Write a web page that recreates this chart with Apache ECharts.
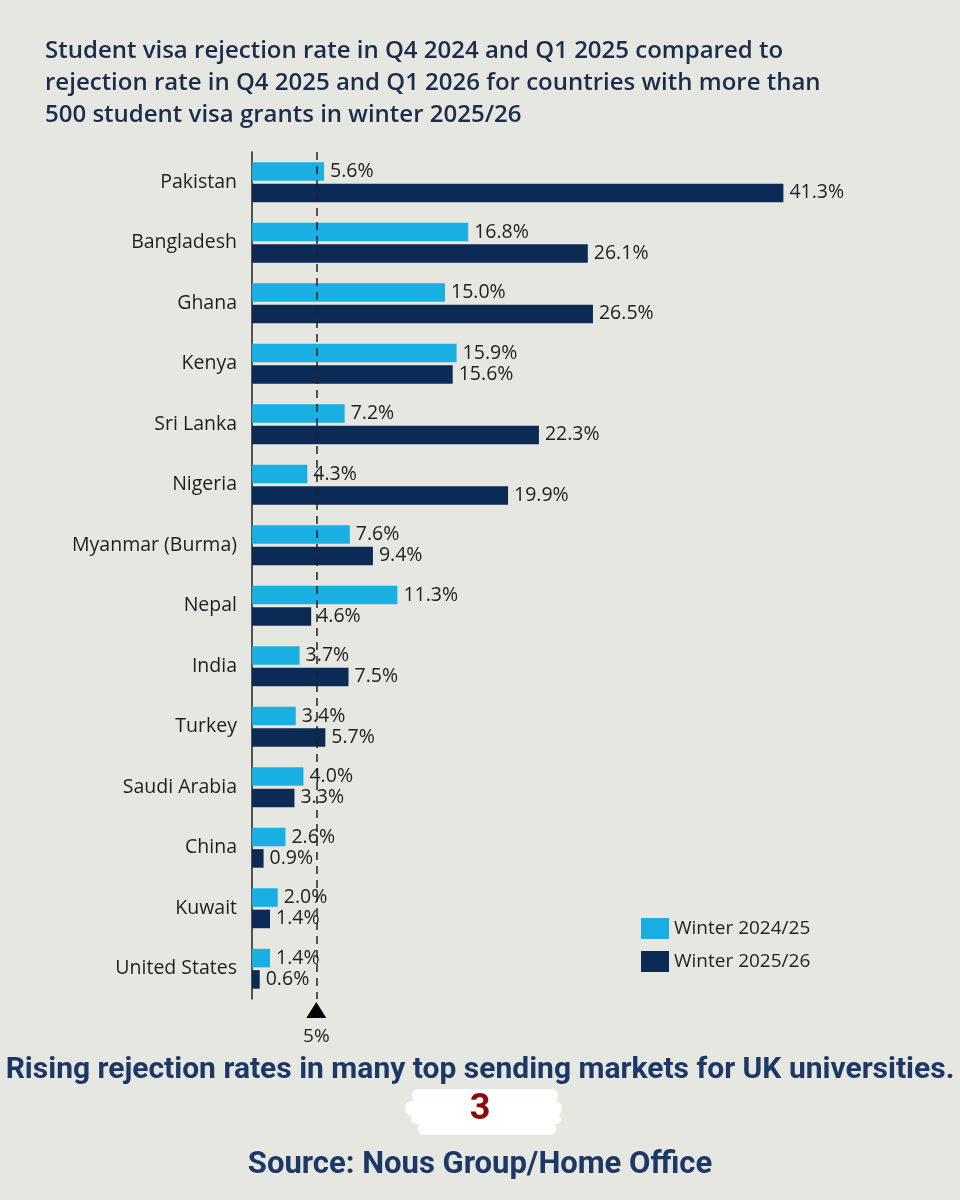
<!DOCTYPE html>
<html>
<head>
<meta charset="utf-8">
<script src="https://cdn.jsdelivr.net/npm/echarts@6/dist/echarts.min.js"></script>
<style>
    html, body { margin: 0; padding: 0; background: #e7e7e1; }
    #chart { width: 960px; height: 1200px; }
</style>
</head>
<body>
<div id="chart"></div>
<script>
const countries = ['Pakistan', 'Bangladesh', 'Ghana', 'Kenya', 'Sri Lanka', 'Nigeria', 'Myanmar (Burma)',
    'Nepal', 'India', 'Turkey', 'Saudi Arabia', 'China', 'Kuwait', 'United States']
const winter2425 = [5.6, 16.8, 15.0, 15.9, 7.2, 4.3, 7.6, 11.3, 3.7, 3.4, 4.0, 2.6, 2.0, 1.4]
const winter2526 = [41.3, 26.1, 26.5, 15.6, 22.3, 19.9, 9.4, 4.6, 7.5, 5.7, 3.3, 0.9, 1.4, 0.6]
const seriesNames = ['Winter 2024/25', 'Winter 2025/26']
const threshold = 5

const CYAN = '#1aafe2'
const NAVY = '#0c2a56'
const TEXT_NAVY = '#1b2d4b'
const BODY_FONT = '"Open Sans", "Noto Sans", sans-serif'
const NARROW_FONT = '"Liberation Sans Narrow", "Arial Narrow", "Roboto", sans-serif'

const chart = echarts.init(document.getElementById('chart'))

const valueLabel = {
    show: true,
    position: 'right',
    distance: 6,
    fontSize: 19.5,
    fontFamily: BODY_FONT,
    color: '#222',
    formatter: p => p.value.toFixed(1) + '%'
}

chart.setOption({
    backgroundColor: '#e7e7e1',
    title: [
        {
            text: 'Student visa rejection rate in Q4 2024 and Q1 2025 compared to\nrejection rate in Q4 2025 and Q1 2026 for countries with more than\n500 student visa grants in winter 2025/26',
            left: 40,
            top: 30,
            textStyle: {
                fontFamily: BODY_FONT,
                fontSize: 24,
                fontWeight: 600,
                lineHeight: 32,
                color: TEXT_NAVY
            }
        },
        {
            text: 'Rising rejection rates in many top sending markets for UK universities.',
            left: 'center',
            top: 1050,
            textStyle: {fontFamily: NARROW_FONT, fontSize: 30, fontWeight: 'bold', color: '#1c3866'}
        },
        {
            text: 'Source: Nous Group/Home Office',
            left: 'center',
            top: 1145,
            textStyle: {fontFamily: NARROW_FONT, fontSize: 31, fontWeight: 'bold', color: '#1c3866'}
        }
    ],
    legend: {
        orient: 'vertical',
        left: 636,
        top: 913,
        itemWidth: 28,
        itemHeight: 21,
        itemGap: 12,
        icon: 'rect',
        textStyle: {fontFamily: BODY_FONT, fontSize: 19, color: '#222'},
        data: seriesNames
    },
    grid: {left: 252, top: 152, width: 579, height: 847, containLabel: false},
    xAxis: {
        type: 'value',
        min: 0,
        max: 45,
        show: false
    },
    yAxis: {
        type: 'category',
        inverse: true,
        data: countries,
        axisLine: {show: true, lineStyle: {color: '#222', width: 1.5}},
        axisTick: {show: false},
        axisLabel: {fontFamily: BODY_FONT, fontSize: 19.5, color: '#1e1e1e', margin: 15}
    },
    series: [
        {
            name: seriesNames[0],
            type: 'bar',
            data: winter2425,
            itemStyle: {color: CYAN},
            barCategoryGap: '34%',
            barGap: '15%',
            label: valueLabel,
            markLine: {
                silent: true,
                symbol: 'none',
                label: {show: false},
                lineStyle: {color: '#222', type: [8, 6], width: 1.5},
                data: [{xAxis: threshold}]
            }
        },
        {
            name: seriesNames[1],
            type: 'bar',
            data: winter2526,
            itemStyle: {color: NAVY},
            label: valueLabel
        }
    ]
})

// triangle marker + label under the 5% line, placed through the axis scale
const tx = chart.convertToPixel({xAxisIndex: 0}, threshold)
chart.setOption({
    graphic: [
        {
            type: 'polygon',
            shape: {points: [[tx - 10, 1018], [tx + 10, 1018], [tx, 1002]]},
            style: {fill: '#000'}
        },
        {
            type: 'text',
            x: tx,
            y: 1027,
            style: {text: threshold + '%', fontFamily: BODY_FONT, fontSize: 19, fill: '#222', textAlign: 'center'}
        },
        // white brush stroke behind the page number
        {type: 'rect', shape: {x: 412, y: 1089, width: 146, height: 13, r: 6}, style: {fill: '#fff'}},
        {type: 'rect', shape: {x: 405, y: 1101, width: 157, height: 15, r: 7}, style: {fill: '#fff'}},
        {type: 'rect', shape: {x: 411, y: 1114, width: 150, height: 10, r: 5}, style: {fill: '#fff'}},
        {type: 'rect', shape: {x: 418, y: 1122, width: 138, height: 13, r: 6}, style: {fill: '#fff'}},
        {
            type: 'text',
            x: 480,
            y: 1092,
            style: {text: '3', fontFamily: NARROW_FONT, fontSize: 36, fontWeight: 'bold', fill: '#8b0a0a', textAlign: 'center'}
        }
    ]
})
</script>
</body>
</html>
